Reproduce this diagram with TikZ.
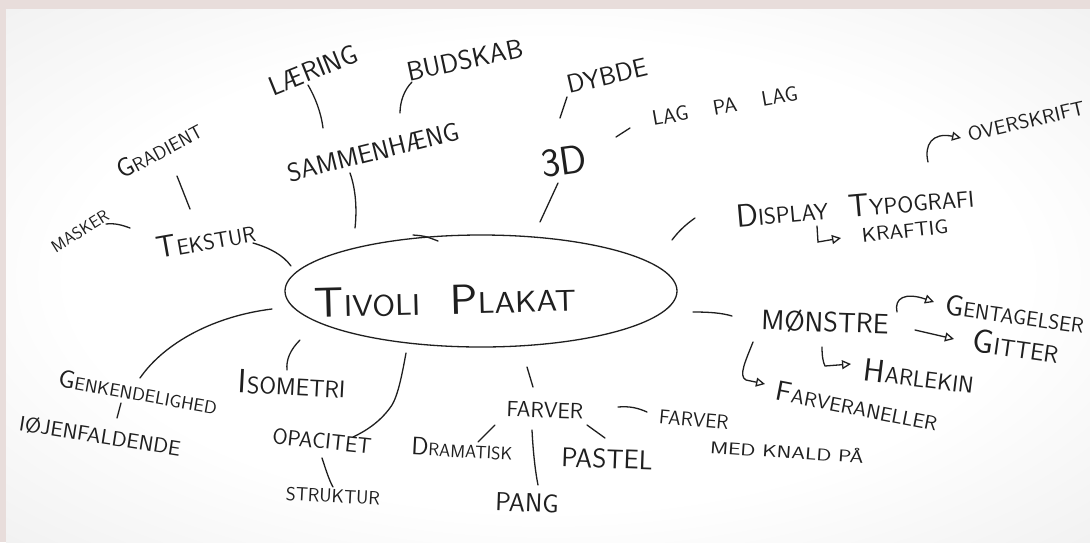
\documentclass[tikz,border=0pt]{standalone}
\usetikzlibrary{shapes.geometric,arrows.meta}
\definecolor{ink}{HTML}{1F1F1F}
\definecolor{framec}{HTML}{E8DDDB}
\definecolor{paperedge}{HTML}{D3D3D3}
\newcommand\hwf[1]{\sffamily\fontsize{#1}{#1}\selectfont}
\newcommand\Ini[1]{\scalebox{1.4}{#1}}
\newcommand\Wd[2]{\scalebox{#1}[1]{#2}}
\pgfdeclareradialshading{paper}{\pgfpoint{0bp}{0bp}}{color(0bp)=(white); color(22bp)=(white); color(48bp)=(white!90!black); color(72bp)=(paperedge)}
\begin{document}
\begin{tikzpicture}[x=1pt,y=-1pt,
  hw/.style={text=ink, inner sep=0pt},
  conn/.style={draw=ink, line width=1.3pt, line cap=round},
  harrow/.style={conn, -{Triangle[open,length=9pt,width=9pt]}}]
\useasboundingbox (0,0) rectangle (1090,542);
\fill[framec] (0,0) rectangle (1090,542);
\shade[shading=paper] (6,9) rectangle (1090,542);

% hub
\node[draw=ink, line width=1.3pt, ellipse, minimum width=392pt, minimum height=112pt, inner sep=0pt] (hub) at (481,291) {};
\draw[conn] (413,235) .. controls (425,236) .. (438,241);
\node[hw, rotate=1.5, font=\hwf{30}] (title) at (445,300) {\Wd{1.1}{\Ini{T}IVOLI\hspace{0.9em}\Ini{P}LAKAT}};

% upper left
\node[hw, rotate=22, font=\hwf{27}] (laering) at (313,70) {LÆRING};
\node[hw, rotate=12, font=\hwf{27}] (budskab) at (465,60) {BUDSKAB};
\node[hw, rotate=14, font=\hwf{26}] (samm) at (373,152) {SAMMENHÆNG};
\node[hw, rotate=28, font=\hwf{19}] (gradient) at (159,150) {\Ini{G}RADIENT};
\node[hw, rotate=32, font=\hwf{17}] (masker) at (80,231) {MASKER};
\node[hw, rotate=10, font=\hwf{22}] (tekstur) at (206,240) {\Ini{T}EKSTUR};

% top middle
\node[hw, rotate=13, font=\hwf{26}] (dybde) at (607,76) {DYBDE};
\node[hw, rotate=10, font=\hwf{21}] (lag) at (725,106) {LAG\hspace{1.2em}PA\hspace{1.2em}LAG};
\node[hw, rotate=8, font=\hwf{40}] (d3) at (564,161) {3D};

% right
\node[hw, rotate=5, font=\hwf{23}] (display) at (855,206) {\Ini{D}ISPLAY\hspace{0.9em}\Ini{T}YPOGRAFI};
\node[hw, rotate=6, font=\hwf{20}] (kraftig) at (905,231) {\Wd{1.1}{KRAFTIG}};
\node[hw, rotate=13, font=\hwf{20}] (overskrift) at (1026,121) {\Wd{1.05}{OVERSKRIFT}};
\node[hw, rotate=-2, font=\hwf{28}] (monstre) at (825,322) {MØNSTRE};
\node[hw, rotate=-8, font=\hwf{21}] (gentag) at (1015,314) {\Ini{G}ENTAGELSER};
\node[hw, rotate=-8, font=\hwf{24}] (gitter) at (1016,346) {\Ini{G}ITTER};
\node[hw, rotate=-7, font=\hwf{23}] (harlekin) at (919,376) {\Ini{H}ARLEKIN};
\node[hw, rotate=-11, font=\hwf{20}] (farvepan) at (857,406) {\Wd{1.05}{\Ini{F}ARVERANELLER}};

% bottom
\node[hw, rotate=-5, font=\hwf{20}] (knaldA) at (694,420) {FARVER};
\node[hw, rotate=-4, font=\hwf{17}] (knaldB) at (787,451) {\Wd{1.3}{MED KNALD PÅ}};
\node[hw, rotate=-2, font=\hwf{22}] (farver) at (545,410) {FARVER};
\node[hw, rotate=-3, font=\hwf{18}] (dramatisk) at (462,449) {\Ini{D}RAMATISK};
\node[hw, rotate=-2, font=\hwf{27}] (pastel) at (607,459) {PASTEL};
\node[hw, rotate=-2, font=\hwf{26}] (pang) at (527,503) {PANG};
\node[hw, rotate=-6, font=\hwf{22}] (opacitet) at (322,441) {OPACITET};
\node[hw, rotate=-3, font=\hwf{19}] (struktur) at (333,496) {STRUKTUR};
\node[hw, rotate=-3, font=\hwf{24}] (isometri) at (292,384) {\Ini{I}SOMETRI};
\node[hw, rotate=-10, font=\hwf{18}] (genk) at (138,392) {\Wd{1.05}{\Ini{G}ENKENDELIGHED}};
\node[hw, rotate=-9, font=\hwf{21}] (iojen) at (100,436) {\Wd{1.05}{IØJENFALDENDE}};

% connector end points
\coordinate (tekA) at (253,243); \coordinate (tekB) at (291,266);
\coordinate (samA) at (350,173); \coordinate (samB) at (355,228);
\coordinate (laeA) at (308,85);  \coordinate (laeB) at (323,128);
\coordinate (budA) at (412,82);  \coordinate (budB) at (400,113);
\coordinate (graA) at (177,176); \coordinate (graB) at (190,209);
\coordinate (masA) at (106,224); \coordinate (masB) at (130,228);
\coordinate (dybA) at (567,97);  \coordinate (dybB) at (560,118);
\coordinate (lagA) at (616,137); \coordinate (lagB) at (630,128);
\coordinate (d3A) at (558,183);  \coordinate (d3B) at (540,222);
\coordinate (disA) at (695,218); \coordinate (disB) at (672,240);
\coordinate (monA) at (693,312); \coordinate (monB) at (732,316);
\coordinate (farA) at (527,367); \coordinate (farB) at (533,387);
\coordinate (draA) at (495,425); \coordinate (draB) at (478,442);
\coordinate (pasA) at (587,425); \coordinate (pasB) at (605,438);
\coordinate (panA) at (532,430); \coordinate (panB) at (538,485);
\coordinate (knaA) at (618,407); \coordinate (knaB) at (647,412);
\coordinate (opaA) at (406,353); \coordinate (opaB) at (353,437);
\coordinate (stA) at (322,458);  \coordinate (stB) at (333,487);
\coordinate (isoA) at (300,340); \coordinate (isoB) at (287,370);
\coordinate (genA) at (272,309); \coordinate (genB) at (140,378);
\coordinate (ioA) at (121,403);  \coordinate (ioB) at (117,418);
\coordinate (ovA) at (928,162);  \coordinate (ovB) at (961,138);
\coordinate (krA) at (817,226);  \coordinate (krB) at (841,238);
\coordinate (geA) at (897,312);  \coordinate (geB) at (934,302);
\coordinate (giA) at (915,330);  \coordinate (giB) at (954,339);
\coordinate (haA) at (822,347);  \coordinate (haB) at (851,364);
\coordinate (fpA) at (753,342);  \coordinate (fpB) at (765,384);

% connectors
\draw[conn] (tekA) .. controls (270,248) and (283,255) .. (tekB);
\draw[conn] (samA) .. controls (356,190) and (357,210) .. (samB);
\draw[conn] (laeA) .. controls (315,97) and (321,112) .. (laeB);
\draw[conn] (budA) .. controls (404,90) and (400,102) .. (budB);
\draw[conn] (graA) -- (graB);
\draw[conn] (masA) .. controls (115,223) and (122,225) .. (masB);
\draw[conn] (dybA) -- (dybB);
\draw[conn] (lagA) -- (lagB);
\draw[conn] (d3A) -- (d3B);
\draw[conn] (disA) .. controls (685,225) and (678,232) .. (disB);
\draw[conn] (monA) .. controls (710,312) and (722,313) .. (monB);
\draw[conn] (farA) -- (farB);
\draw[conn] (draA) -- (draB);
\draw[conn] (pasA) -- (pasB);
\draw[conn] (panA) .. controls (533,450) and (535,470) .. (panB);
\draw[conn] (knaA) .. controls (630,406) and (638,408) .. (knaB);
\draw[conn] (opaA) .. controls (402,375) and (398,395) .. (392,405) .. controls (382,420) and (368,430) .. (opaB);
\draw[conn] (stA) .. controls (326,470) and (329,480) .. (stB);
\draw[conn] (isoA) .. controls (290,350) and (286,360) .. (isoB);
\draw[conn] (genA) .. controls (215,316) and (165,342) .. (genB);
\draw[conn] (ioA) -- (ioB);

% arrows
\draw[harrow] (ovA) .. controls (924,145) and (932,132) .. (ovB);
\draw[harrow] (krA) -- (818,242) -- (krB);
\draw[harrow] (geA) .. controls (894,298) and (905,292) .. (geB);
\draw[harrow] (giA) -- (giB);
\draw[harrow] (haA) .. controls (822,356) and (823,362) .. (825,366) -- (haB);
\draw[harrow] (fpA) .. controls (746,360) and (738,376) .. (746,380) -- (fpB);
\end{tikzpicture}
\end{document}
